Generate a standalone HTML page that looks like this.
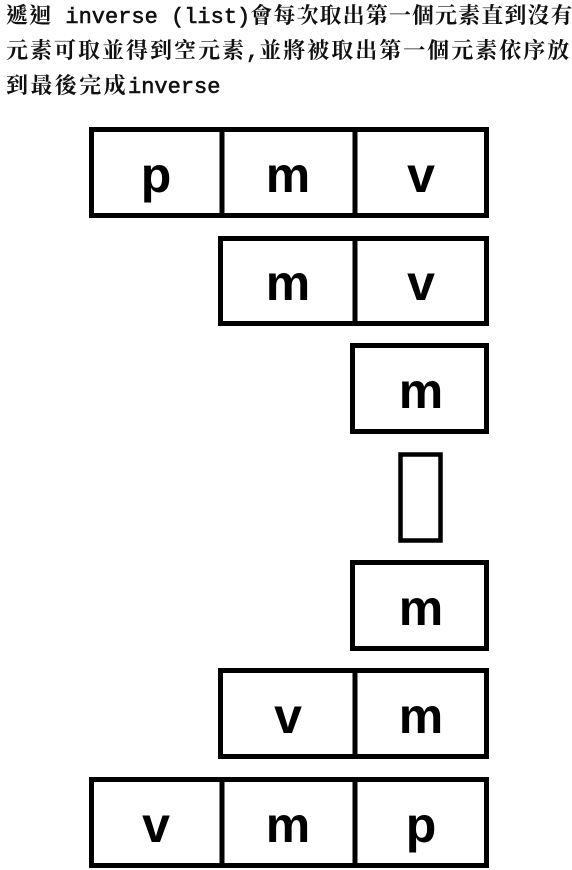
<!DOCTYPE html>
<html><head><meta charset="utf-8">
<style>
html,body{margin:0;padding:0;background:#fff;}
body{width:572px;height:870px;position:relative;overflow:hidden;}
.line{position:absolute;left:6px;white-space:pre;font-weight:bold;font-size:22px;line-height:22px;color:#111;}
.c{font-family:"Liberation Serif","Noto Serif CJK TC","Noto Serif CJK SC",serif;letter-spacing:1.1px;}
.l{font-family:"Liberation Mono",monospace;font-size:22px;font-weight:normal;-webkit-text-stroke:0.6px #111;}
#line2 .c{letter-spacing:2px;}
#line3 .c{letter-spacing:2.4px;}
svg{position:absolute;left:0;top:0;}
</style></head>
<body>
<div class="line" style="top:5px"><span class="c">遞迴</span><span class="l"> inverse (list)</span><span class="c">會每次取出第一個元素直到沒有</span></div>
<div class="line" id="line2" style="top:40px"><span class="c">元素可取並得到空元素</span><span class="l">,</span><span class="c">並將被取出第一個元素依序放</span></div>
<div class="line" id="line3" style="top:75px"><span class="c">到最後完成</span><span class="l">inverse</span></div>
<svg width="572" height="870">
<g stroke="#000" stroke-width="5" fill="none">
<rect x="91.5" y="129.5" width="395" height="86"/>
<line x1="222" y1="129" x2="222" y2="216"/><line x1="355" y1="129" x2="355" y2="216"/>
<rect x="220.5" y="238.5" width="266" height="85"/>
<line x1="355" y1="238" x2="355" y2="324"/>
<rect x="352.5" y="345.5" width="134" height="86"/>
<rect x="400.5" y="454.5" width="40" height="86" stroke-width="4.5"/>
<rect x="352.5" y="562.5" width="134" height="86"/>
<rect x="220.5" y="670.5" width="266" height="86"/>
<line x1="355" y1="670" x2="355" y2="757"/>
<rect x="91.5" y="779.5" width="395" height="86"/>
<line x1="222" y1="779" x2="222" y2="866"/><line x1="355" y1="779" x2="355" y2="866"/>
</g>
<g font-family="Liberation Sans, sans-serif" font-weight="bold" font-size="50" text-anchor="middle" fill="#000">
<text x="156" y="192">p</text><text x="288" y="192">m</text><text x="421" y="192">v</text>
<text x="288" y="300">m</text><text x="421" y="300">v</text>
<text x="421" y="408">m</text>
<text x="421" y="625">m</text>
<text x="288" y="733">v</text><text x="421" y="733">m</text>
<text x="156" y="842">v</text><text x="288" y="842">m</text><text x="421" y="842">p</text>
</g>
</svg>
</body></html>
